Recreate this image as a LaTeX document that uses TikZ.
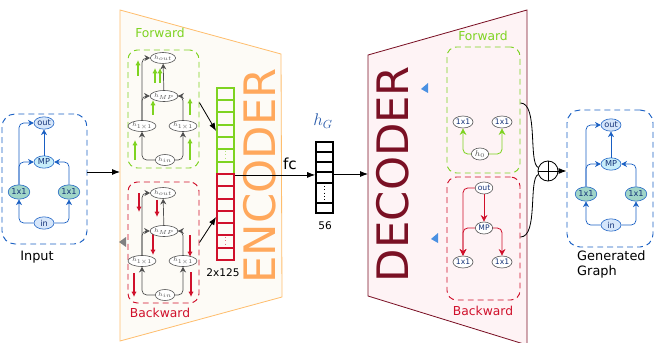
\documentclass[tikz,border=0pt]{standalone}
\usepackage{fontspec}
\setmainfont{DejaVu Sans}
\usetikzlibrary{arrows.meta, positioning, fit, shapes.geometric}
\definecolor{graphblue}{RGB}{25,95,195}
\definecolor{textblue}{RGB}{20,50,120}
\definecolor{outfill}{RGB}{214,230,250}
\definecolor{mpfill}{RGB}{200,238,250}
\definecolor{convfill}{RGB}{160,213,200}
\definecolor{fwdgreen}{RGB}{126,211,33}
\definecolor{bwdred}{RGB}{208,16,43}
\definecolor{encline}{RGB}{255,190,110}
\definecolor{encorange}{RGB}{255,168,92}
\definecolor{encfill}{RGB}{253,251,246}
\definecolor{decred}{RGB}{122,16,36}
\definecolor{decfill}{RGB}{254,243,245}
\definecolor{hgblue}{RGB}{40,90,170}
\definecolor{markblue}{RGB}{74,144,226}
\definecolor{hgray}{RGB}{80,80,80}

\begin{document}
\begin{tikzpicture}[
  x=0.3mm, y=-0.3mm,
  grp/.style={draw=#1, dashed, dash pattern=on 5pt off 3.5pt, rounded corners=8pt,
    line width=0.8pt, inner sep=0pt},
  gnode/.style={ellipse, draw=graphblue, line width=0.5pt, fill=#1, inner sep=0pt,
    minimum width=6mm, minimum height=3.7mm, font=\fontsize{7}{8}\selectfont, text=textblue},
  hnode/.style={ellipse, draw=hgray, fill=white, line width=0.5pt, inner sep=0pt,
    minimum width=5.4mm, minimum height=3.3mm, font=\tiny, text=hgray},
  dnode/.style={ellipse, draw=hgray, fill=white, line width=0.5pt, inner sep=0pt,
    minimum width=5.2mm, minimum height=3.6mm, font=\fontsize{6.5}{7}\selectfont, text=textblue},
  garr/.style={-{Stealth[length=1.7mm, width=1.8mm]}, draw=#1, line width=0.6pt, rounded corners=4pt},
  darr/.style={-{Stealth[length=2mm, width=2mm]}, draw=#1, line width=0.7pt, rounded corners=4pt},
  flow/.style={-{Latex[length=1.6mm, width=1.6mm]}, draw=#1, line width=1.4pt},
  arr/.style={-{Latex[length=2.4mm]}, line width=0.7pt},
  lbl/.style={font=\fontsize{11}{13}\selectfont},
  grplbl/.style={font=\fontsize{10.5}{12}\selectfont, text=#1}
]
\useasboundingbox (0,0) rectangle (654,343);

% encoder and decoder bodies
\draw[draw=encline, fill=encfill, line width=0.7pt] (120,10) -- (281,54) -- (282,297) -- (120,341) -- cycle;
\node[rotate=90, text=encorange, font=\fontsize{37}{37}\selectfont] (enctxt) at (260,176) {ENCODER};
\draw[draw=decred, fill=decfill, line width=0.7pt] (368,55) -- (527,10) -- (527,345) -- (368,296) -- cycle;
\node[rotate=90, text=decred, font=\fontsize{37}{37}\selectfont] (dectxt) at (393,174) {DECODER};
\coordinate (encL) at (120,172);
\coordinate (decL) at (368,174);

% input graph and generated graph
\node[grp=graphblue, rounded corners=11pt, fit={(2,114)(87,244)}] (inpbox) {};
\node[grp=graphblue, rounded corners=11pt, fit={(567,110)(653,247)}] (genbox) {};
\foreach \g/\cx/\cy in {inp/44/162, gen/611/164} {
  \node[gnode=outfill] (\g-out) at (\cx,\cy-39) {out};
  \node[gnode=mpfill] (\g-mp) at (\cx,\cy) {MP};
  \node[gnode=convfill, minimum height=4.3mm] (\g-l) at (\cx-25,\cy+30) {1x1};
  \node[gnode=convfill, minimum height=4.3mm] (\g-r) at (\cx+25,\cy+30) {1x1};
  \node[gnode=outfill] (\g-in) at (\cx,\cy+61) {in};
  \draw[garr=graphblue] (\g-in.west) -| (\g-l.south);
  \draw[garr=graphblue] (\g-in.east) -| (\g-r.south);
  \draw[garr=graphblue] (\g-l.north) |- (\g-mp.west);
  \draw[garr=graphblue] (\g-r.north) |- (\g-mp.east);
  \draw[garr=graphblue] (\g-mp) -- (\g-out);
  \draw[garr=graphblue] (\g-l.north) |- (\g-out.west);
}
\node[lbl] (inplbl) at (37,257) {Input};
\node[lbl, align=left, anchor=north west, inner sep=0pt] (genlbl) at (577,250) {Generated\\Graph};

% encoder graphs
\node[grp=fwdgreen, fit={(128,50)(199,168)}] (efwd) {};
\node[grp=bwdred, fit={(128,182)(199,303)}] (ebwd) {};
\node[grplbl=fwdgreen] (efwdlbl) at (160,33) {Forward};
\node[grplbl=bwdred] (ebwdlbl) at (160,313) {Backward};
\foreach \x/\ya/\yb in {138/76/60, 155/83/68, 160/83/68, 153/115/100, 190/115/98, 135/160/140, 190/160/138}
  \draw[flow=fwdgreen] (\x,\ya) -- (\x,\yb);
\foreach \x/\ya/\yb in {139/193/212, 157/200/217, 153/233/255, 190/235/257, 134/273/297, 191/272/297}
  \draw[flow=bwdred] (\x,\ya) -- (\x,\yb);
\foreach \g/\cy in {ef/96, eb/231} {
  \node[hnode] (\g-out) at (163,\cy-38) {$h_{out}$};
  \node[hnode] (\g-mp) at (164,\cy) {$h_{MP}$};
  \node[hnode] (\g-l) at (142,\cy+30) {$h_{1\times1}$};
  \node[hnode] (\g-r) at (183,\cy+30) {$h_{1\times1}$};
  \node[hnode] (\g-in) at (165,\cy+64) {$h_{in}$};
  \draw[garr=hgray] (\g-in.west) -| (\g-l.south);
  \draw[garr=hgray] (\g-in.east) -| (\g-r.south);
  \draw[garr=hgray] (\g-l.north) |- (\g-mp.west);
  \draw[garr=hgray] (\g-r.north) |- (\g-mp.east);
  \draw[garr=hgray] (\g-mp) -- (\g-out);
  \draw[garr=hgray] (\g-l.north) |- (\g-out.west);
}
\fill[gray] (126,237) -- (119,242) -- (126,247) -- cycle;

% embedding vectors
\node[fit={(217,88)(234,174)}, inner sep=0pt, draw=fwdgreen, line width=1.6pt] (gvec) {};
\foreach \y in {100,112,125,137,149,162}
  \draw[fwdgreen, line width=1.6pt] (217,\y) -- (234,\y);
\draw[fwdgreen!60, dotted, line width=0.8pt] (225.5,151) -- (225.5,160);
\node[fit={(217,174)(234,260)}, inner sep=0pt, draw=bwdred, line width=1.6pt] (rvec) {};
\foreach \y in {186,199,211,223,235,248}
  \draw[bwdred, line width=1.6pt] (217,\y) -- (234,\y);
\draw[bwdred!60, dotted, line width=0.8pt] (225.5,237) -- (225.5,246);
\node[font=\fontsize{9}{10}\selectfont] (dimlbl) at (223,273) {2x125};
\draw[arr] (efwd.10) -- (gvec.west);
\draw[arr] (ebwd.east) -- (rvec.west);

\node[fit={(316,142)(333,213)}, inner sep=0pt, draw, line width=1.4pt] (hvec) {};
\foreach \y in {152,162,172,183,203}
  \draw[line width=1.4pt] (316,\y) -- (333,\y);
\draw[dotted, line width=0.8pt] (324.5,186) -- (324.5,200);
\node[text=hgblue, font=\fontsize{14}{16}\selectfont] (hglbl) at (323,121) {$h_G$};
\node[font=\fontsize{9}{10}\selectfont] (hgdim) at (325,226) {56};
\node[font=\fontsize{13}{14}\selectfont] (fc) at (290,164) {fc};
\draw[arr] (gvec.south east) -- (gvec.south east -| hvec.west);
\draw[arr] (hvec.east |- decL) -- (decL);
\draw[arr] (encL -| inpbox.east) -- (encL);

% decoder graphs
\node[grp=fwdgreen, fit={(447,47)(520,173)}] (dfwd) {};
\node[grp=bwdred, fit={(447,177)(520,300)}] (dbwd) {};
\node[grplbl=fwdgreen] (dfwdlbl) at (483,36) {Forward};
\node[grplbl=bwdred] (dbwdlbl) at (483,311) {Backward};
\node[dnode] (dl) at (463,122) {1x1};
\node[dnode] (dr) at (502,122) {1x1};
\node[dnode, text=hgray, font=\scriptsize] (h0) at (480,154) {$h_0$};
\draw[darr=fwdgreen] (h0.west) -| (dl.south);
\draw[darr=fwdgreen] (h0.east) -| (dr.south);
\node[dnode] (bo) at (484,188) {out};
\node[dnode] (bm) at (484,228) {MP};
\node[dnode] (bl) at (463,262) {1x1};
\node[dnode] (br) at (502,262) {1x1};
\draw[darr=bwdred] (bo) -- (bm);
\draw[darr=bwdred] (bo.west) -| (bl.north);
\draw[darr=bwdred] (bm.west) -| (bl.north);
\draw[darr=bwdred] (bm.east) -| (br.north);
\fill[markblue] (428,83) -- (421,89) -- (428,93) -- cycle;
\fill[markblue] (438,233) -- (431,239) -- (438,243) -- cycle;

% merge
\node[circle, draw, fill=white, line width=0.7pt, minimum size=6mm, inner sep=0pt,
  path picture={\draw[line width=0.6pt] (path picture bounding box.north) -- (path picture bounding box.south)
    (path picture bounding box.west) -- (path picture bounding box.east);}] (plus) at (548,171) {};
\draw[line width=0.7pt] (dfwd.east |- 0,103) .. controls +(18,0) and +(-10,-4) .. (plus.160);
\draw[line width=0.7pt] (dbwd.east |- 0,237) .. controls +(18,0) and +(-10,4) .. (plus.200);
\draw[arr] (plus.east) -- (plus.east -| genbox.west);
\end{tikzpicture}
\end{document}
